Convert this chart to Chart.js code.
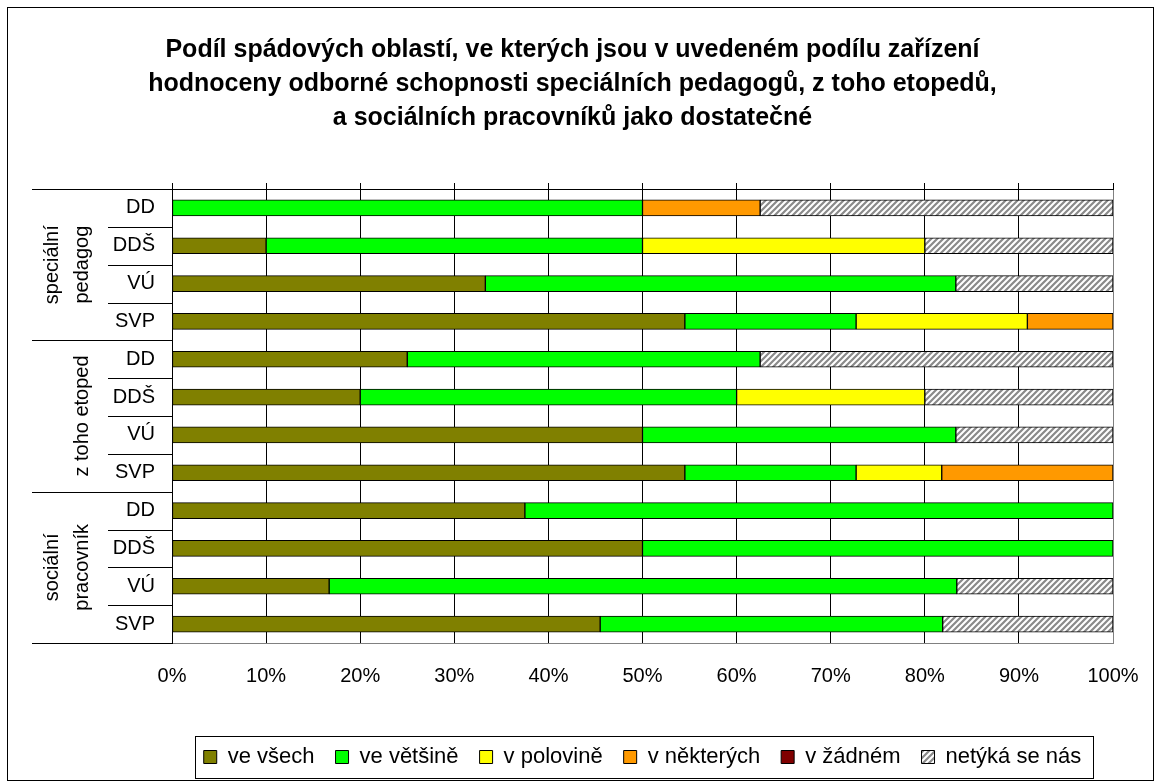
<!DOCTYPE html>
<html>
<head>
<meta charset="utf-8">
<title>Podíl spádových oblastí</title>
<script src="https://cdn.jsdelivr.net/npm/chart.js@4.4.1/dist/chart.umd.min.js"></script>
<style>
  html, body { margin: 0; padding: 0; background: #fff; }
  canvas { display: block; }
</style>
</head>
<body>
<canvas id="chart" width="1161" height="783"></canvas>
<script>
// Categories (rows top to bottom) and their groups
const categories = ['DD', 'DDŠ', 'VÚ', 'SVP', 'DD', 'DDŠ', 'VÚ', 'SVP', 'DD', 'DDŠ', 'VÚ', 'SVP'];
const groupLabels = [['speciální', 'pedagog'], ['z toho etoped'], ['sociální', 'pracovník']];
const groupSize = 4;

// Series values in percent
const veVsech    = [0, 10, 33.3, 54.5, 25, 20, 50, 54.5, 37.5, 50, 16.7, 45.5];
const veVetsine  = [50, 40, 50, 18.2, 37.5, 40, 33.3, 18.2, 62.5, 50, 66.7, 36.4];
const vPolovine  = [0, 30, 0, 18.2, 0, 20, 0, 9.1, 0, 0, 0, 0];
const vNekterych = [12.5, 0, 0, 9.1, 0, 0, 0, 18.2, 0, 0, 0, 0];
const vZadnem    = [0, 0, 0, 0, 0, 0, 0, 0, 0, 0, 0, 0];
const netyka     = [37.5, 20, 16.7, 0, 37.5, 20, 16.7, 0, 0, 0, 16.6, 18.1];

const seriesNames = ['ve všech', 've většině', 'v polovině', 'v některých', 'v žádném', 'netýká se nás'];
const xTicks = [0, 10, 20, 30, 40, 50, 60, 70, 80, 90, 100];

const titleLines = [
  'Podíl spádových oblastí, ve kterých jsou v uvedeném podílu zařízení',
  'hodnoceny odborné schopnosti speciálních pedagogů, z toho etopedů,',
  'a sociálních pracovníků jako dostatečné'
];

const FONT = "'Liberation Sans', Arial, sans-serif";

// Diagonal hatch for "netýká se nás"
function makeHatch() {
  const c = document.createElement('canvas');
  c.width = 6;
  c.height = 6;
  const g = c.getContext('2d');
  g.fillStyle = '#ffffff';
  g.fillRect(0, 0, 6, 6);
  g.strokeStyle = '#8a8a8a';
  g.lineWidth = 2.2;
  g.beginPath();
  g.moveTo(-3, 3); g.lineTo(3, -3);
  g.moveTo(0, 6); g.lineTo(6, 0);
  g.moveTo(3, 9); g.lineTo(9, 3);
  g.stroke();
  return g.createPattern(c, 'repeat');
}

const ctx = document.getElementById('chart').getContext('2d');
const hatch = makeHatch();

function series(label, data, color) {
  return {
    label: label,
    data: data,
    backgroundColor: color,
    borderColor: '#000000',
    borderWidth: 1,
    borderSkipped: false,
    barThickness: 16
  };
}

// Group labels and separator lines left of the category axis
const groupPlugin = {
  id: 'groupLabels',
  afterDraw(chart) {
    const y = chart.scales.y;
    const left = chart.chartArea.left;
    const step = y.getPixelForValue(1) - y.getPixelForValue(0);
    const c = chart.ctx;
    c.save();
    c.strokeStyle = '#000';
    c.lineWidth = 1;
    for (let i = 0; i <= categories.length; i++) {
      const py = Math.round(y.getPixelForValue(i) - step / 2) + 0.5;
      const x0 = (i % groupSize === 0) ? 32 : 108;
      c.beginPath();
      c.moveTo(x0, py);
      c.lineTo(left, py);
      c.stroke();
    }
    c.fillStyle = '#000';
    c.font = '20px ' + FONT;
    c.textAlign = 'center';
    c.textBaseline = 'middle';
    groupLabels.forEach((lines, g) => {
      const top = y.getPixelForValue(g * groupSize) - step / 2;
      const bottom = y.getPixelForValue(g * groupSize + groupSize - 1) + step / 2;
      const cy = (top + bottom) / 2;
      lines.forEach((t, k) => {
        const cx = 82 - (lines.length - 1 - k) * 30;
        c.save();
        c.translate(cx, cy);
        c.rotate(-Math.PI / 2);
        c.fillText(t, 0, 0);
        c.restore();
      });
    });
    c.restore();
  }
};

// Frame around legend and around the whole chart
const framePlugin = {
  id: 'frames',
  afterDraw(chart) {
    const c = chart.ctx;
    const lg = chart.legend;
    c.save();
    c.strokeStyle = '#000';
    c.lineWidth = 1;
    if (lg && lg.legendHitBoxes && lg.legendHitBoxes.length) {
      const boxes = lg.legendHitBoxes;
      const minX = Math.min(...boxes.map(b => b.left));
      const maxX = Math.max(...boxes.map(b => b.left + b.width));
      c.strokeRect(Math.round(minX - 9) + 0.5, Math.round(lg.top + 11) + 0.5,
                   Math.round(maxX - minX + 20), 42);
    }
    c.strokeRect(7.5, 7.5, 1146, 773);
    c.restore();
  }
};

new Chart(ctx, {
  type: 'bar',
  data: {
    labels: categories,
    datasets: [
      series(seriesNames[0], veVsech, '#808000'),
      series(seriesNames[1], veVetsine, '#00FF00'),
      series(seriesNames[2], vPolovine, '#FFFF00'),
      series(seriesNames[3], vNekterych, '#FF9900'),
      series(seriesNames[4], vZadnem, '#800000'),
      series(seriesNames[5], netyka, hatch)
    ]
  },
  plugins: [groupPlugin, framePlugin],
  options: {
    indexAxis: 'y',
    responsive: false,
    animation: false,
    devicePixelRatio: 1,
    layout: {
      padding: { left: 32, right: 48, top: 0, bottom: 5 }
    },
    plugins: {
      tooltip: { enabled: false },
      title: {
        display: true,
        text: titleLines,
        color: '#000',
        font: { family: FONT, size: 25, weight: 'bold', lineHeight: 1.36 },
        padding: { top: 33, bottom: 48 }
      },
      legend: {
        position: 'bottom',
        fullSize: false,
        labels: {
          color: '#000',
          boxWidth: 13,
          boxHeight: 13,
          padding: 21,
          font: { family: FONT, size: 22 }
        }
      }
    },
    scales: {
      x: {
        stacked: true,
        min: 0,
        max: 100,
        afterBuildTicks(scale) {
          scale.ticks = xTicks.map(v => ({ value: v }));
        },
        afterFit(scale) {
          scale.height = 82;
        },
        ticks: {
          color: '#000',
          padding: 21,
          maxRotation: 0,
          font: { family: FONT, size: 20 },
          callback: v => v + '%'
        },
        grid: {
          drawTicks: false,
          color: c => (c.tick && c.tick.value === 100) ? '#808080' : '#000000',
          lineWidth: 1
        },
        border: { color: '#808080', width: 1 }
      },
      x2: {
        position: 'top',
        type: 'linear',
        min: 0,
        max: 100,
        afterBuildTicks(scale) {
          scale.ticks = xTicks.map(v => ({ value: v }));
        },
        ticks: { display: false },
        grid: {
          drawOnChartArea: false,
          drawTicks: true,
          tickLength: 6,
          color: '#000'
        },
        border: { color: '#000', width: 1 }
      },
      y: {
        stacked: true,
        afterFit(scale) {
          scale.width = 140;
        },
        ticks: {
          color: '#000',
          padding: 17,
          font: { family: FONT, size: 20 }
        },
        grid: { display: false, drawTicks: false },
        border: { color: '#000', width: 1 }
      }
    }
  }
});
</script>
</body>
</html>
